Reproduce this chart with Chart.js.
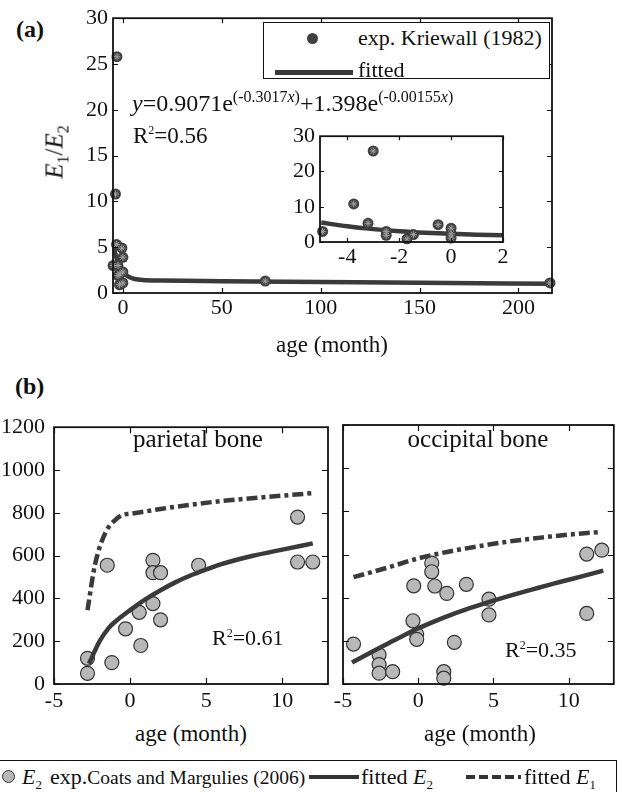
<!DOCTYPE html>
<html>
<head>
<meta charset="utf-8">
<title>E1/E2 ratio and skull bone modulus vs age</title>
<script src="https://cdn.jsdelivr.net/npm/chart.js@4.4.1/dist/chart.umd.min.js"></script>
<style>
  body { margin: 0; background: #fff; }
  #fig { position: relative; width: 622px; height: 792px; overflow: hidden;
         font-family: 'Liberation Serif', 'Times New Roman', serif; color: #111; }
  canvas { position: absolute; }
  .t { position: absolute; white-space: nowrap; line-height: 1; }
  .mid { transform: translateY(-50%); }
  .ctr { transform: translate(-50%, -50%); }
  sub, sup { line-height: 0; }
  .box { position: absolute; border: 1.6px solid #111; background: #fff; box-sizing: border-box; }
</style>
</head>
<body>
<div id="fig">
  <canvas id="chartA" width="530" height="335" style="left:50px;top:0"></canvas>
  <canvas id="chartInset" width="250" height="160" style="left:270px;top:118px"></canvas>
  <canvas id="chartPar" width="340" height="310" style="left:0;top:405px"></canvas>
  <canvas id="chartOcc" width="295" height="310" style="left:327px;top:405px"></canvas>

  <!-- panel (a) texts -->
  <div class="t mid" style="left:16px;top:29px;font-size:24px;font-weight:bold">(a)</div>
  <div class="t" style="left:54px;top:152px;font-size:25px;transform:translate(-50%,-50%) rotate(-90deg)"><i>E</i><sub style="font-size:16px">1</sub>/<i>E</i><sub style="font-size:16px">2</sub></div>
  <div class="t mid" style="left:132px;top:103px;font-size:24px"><i>y</i>=0.9071e<sup style="font-size:16px">(-0.3017<i>x</i>)</sup>+1.398e<sup style="font-size:16px">(-0.00155<i>x</i>)</sup></div>
  <div class="t mid" style="left:133px;top:135px;font-size:23px">R<sup style="font-size:12px">2</sup>=0.56</div>
  <div class="box" style="left:263px;top:22px;width:287px;height:57px"></div>
  <div class="t" style="left:307px;top:33px;width:11px;height:11px;border-radius:50%;background:#404040"></div>
  <div class="t" style="left:275px;top:70px;width:78px;height:5px;background:#3a3a3a"></div>
  <div class="t mid" style="left:358px;top:38px;font-size:22px">exp. Kriewall (1982)</div>
  <div class="t mid" style="left:358px;top:70px;font-size:22px">fitted</div>
  <div class="t ctr" style="left:332px;top:344px;font-size:23px">age (month)</div>

  <!-- panel (b) texts -->
  <div class="t mid" style="left:15px;top:386px;font-size:24px;font-weight:bold">(b)</div>
  <div class="t ctr" style="left:198px;top:438px;font-size:25px">parietal bone</div>
  <div class="t ctr" style="left:478px;top:438px;font-size:25px">occipital bone</div>
  <div class="t mid" style="left:212px;top:638px;font-size:22px">R<sup style="font-size:12px">2</sup>=0.61</div>
  <div class="t mid" style="left:505px;top:650px;font-size:22px">R<sup style="font-size:12px">2</sup>=0.35</div>
  <div class="t ctr" style="left:191px;top:733px;font-size:23px">age (month)</div>
  <div class="t ctr" style="left:480px;top:733px;font-size:23px">age (month)</div>

  <!-- bottom legend -->
  <div class="box" style="left:-2px;top:760px;width:619px;height:40px"></div>
  <div class="t" style="left:2px;top:770px;width:13px;height:13px;border-radius:50%;background:#b8b8b8;border:1.2px solid #333;box-sizing:border-box"></div>
  <div class="t mid" style="left:22px;top:777px;font-size:22px"><i>E</i><sub style="font-size:13px">2</sub></div>
  <div class="t mid" style="left:50px;top:777px;font-size:22px">exp.<span style="font-size:19.5px">Coats and Margulies (2006)</span></div>
  <div class="t" style="left:309px;top:775px;width:50px;height:4px;background:#333"></div>
  <div class="t mid" style="left:361px;top:777px;font-size:22px">fitted <i>E</i><sub style="font-size:13px">2</sub></div>
  <div class="t" style="left:466px;top:775px;width:55px;height:4px;background:repeating-linear-gradient(90deg,#333 0 9px,transparent 9px 13px)"></div>
  <div class="t mid" style="left:524px;top:777px;font-size:22px">fitted <i>E</i><sub style="font-size:13px">1</sub></div>
</div>

<script>
/* ---- Data ---- */

// (a) Kriewall (1982): E1/E2 ratio vs age (month)
const kriAge   = [-4.95, -3.75, -3.0, -3.2, -2.5, -2.5, -1.7, -1.45, -0.5, 0, 0, 0, 72, 216];
const kriRatio = [3.0, 10.8, 25.8, 5.3, 3.0, 1.9, 0.9, 2.1, 4.9, 3.9, 2.3, 1.1, 1.3, 1.1];
// fitted curve, sampled
const fitAge   = [-5, -4, -3, -2, -1, 0, 1, 2, 4, 6, 10, 20, 50, 100, 150, 217];
const fitRatio = [5.51, 4.44, 3.65, 3.06, 2.63, 2.31, 2.07, 1.89, 1.66, 1.53, 1.42, 1.36, 1.29, 1.20, 1.11, 1.00];

// (b) parietal bone, Coats and Margulies (2006)
const parAge = [-2.8, -2.8, -1.2, -1.5, -0.3, 0.6, 0.7, 1.5, 1.5, 2.0, 1.5, 2.0, 4.5, 11, 11, 12];
const parE2  = [120, 50, 100, 555, 258, 335, 180, 578, 520, 520, 376, 300, 555, 780, 570, 570];
const parFitE2Age = [-2.7, -2, -1.4, -1, 0, 1, 2, 3, 4, 5, 6, 8, 10, 12];
const parFitE2    = [95, 200, 262, 290, 345, 395, 438, 476, 508, 535, 560, 598, 628, 657];
const parFitE1Age = [-2.8, -2.3, -1.6, -1, -0.5, 0, 2, 4, 6, 8, 10, 12];
const parFitE1    = [345, 560, 710, 765, 790, 795, 818, 838, 855, 868, 880, 892];

// (b) occipital bone
const occAge = [-4.3, -2.6, -2.6, -2.6, -1.7, -0.3, -0.35, -0.1, -0.1, 0.9, 0.9, 1.1, 1.9, 1.7, 1.7, 2.4, 3.2, 4.7, 4.7, 11.2, 11.2, 12.2];
const occE2  = [185, 135, 90, 50, 57, 455, 293, 230, 207, 560, 520, 454, 420, 57, 27, 193, 462, 393, 320, 327, 602, 620];
const occFitE2Age = [-4.4, -3, -2, -1, 0, 1, 2, 3, 4, 5, 6, 7, 8, 9, 10, 11, 12.3];
const occFitE2    = [100, 152, 188, 224, 258, 288, 316, 341, 364, 386, 407, 427, 446, 465, 483, 501, 525];
const occFitE1Age = [-4.3, -2, 0, 2, 4, 6, 8, 10, 12.2];
const occFitE1    = [495, 540, 582, 613, 638, 660, 677, 692, 705];

// tick labels
const xTicksA = [0, 50, 100, 150, 200];
const yTicksA = [0, 5, 10, 15, 20, 25, 30];
const xTicksInset = [-4, -2, 0, 2];
const yTicksInset = [0, 10, 20, 30];
const xTicksB = [-5, 0, 5, 10];
const yTicksB = [0, 200, 400, 600, 800, 1000, 1200];

/* ---- Helpers ---- */
const SERIF = "'Liberation Serif', 'Times New Roman', serif";
const DARK = '#3a3a3a';
const pts = (xs, ys) => xs.map((x, i) => ({ x: x, y: ys[i] }));

// MATLAB-like box with inward ticks on all four sides
const boxTicks = {
    id: 'boxTicks',
    afterDatasetsDraw(chart, args, opts) {
        const { ctx, chartArea: a, scales: { x, y } } = chart;
        const len = opts.len || 5;
        ctx.save();
        ctx.strokeStyle = '#111';
        ctx.lineWidth = 1.2;
        ctx.beginPath();
        x.ticks.forEach(t => {
            const px = Math.round(x.getPixelForValue(t.value)) + 0.5;
            ctx.moveTo(px, a.bottom); ctx.lineTo(px, a.bottom - len);
            ctx.moveTo(px, a.top); ctx.lineTo(px, a.top + len);
        });
        y.ticks.forEach(t => {
            const py = Math.round(y.getPixelForValue(t.value)) + 0.5;
            ctx.moveTo(a.left, py); ctx.lineTo(a.left + len, py);
            ctx.moveTo(a.right, py); ctx.lineTo(a.right - len, py);
        });
        ctx.stroke();
        ctx.lineWidth = 1.8;
        ctx.strokeRect(a.left, a.top, a.right - a.left, a.bottom - a.top);
        ctx.restore();
    }
};

function makeChart(id, datasets, g) {
    return new Chart(document.getElementById(id), {
        type: 'scatter',
        data: { datasets: datasets },
        plugins: [boxTicks],
        options: {
            responsive: false,
            animation: false,
            events: [],
            layout: { padding: { top: g.padTop, right: g.padRight, left: 0, bottom: 0 } },
            plugins: {
                legend: { display: false },
                tooltip: { enabled: false },
                boxTicks: { len: g.tickLen }
            },
            scales: {
                x: {
                    type: 'linear', min: g.xMin, max: g.xMax,
                    grid: { display: false, drawTicks: false }, border: { display: false },
                    ticks: { font: { family: SERIF, size: 22 }, color: '#111', padding: g.xPad, maxRotation: 0,
                             callback: v => String(v) },
                    afterBuildTicks: s => { s.ticks = g.xTicks.map(v => ({ value: v })); },
                    afterFit: s => { s.height = g.xh; }
                },
                y: {
                    type: 'linear', min: g.yMin, max: g.yMax,
                    grid: { display: false, drawTicks: false }, border: { display: false },
                    ticks: { display: g.yLabels, font: { family: SERIF, size: 22 }, color: '#111', padding: g.yPad,
                             callback: v => String(v) },
                    afterBuildTicks: s => { s.ticks = g.yTicks.map(v => ({ value: v })); },
                    afterFit: s => { s.width = g.yw; }
                }
            }
        }
    });
}

function kriStars(xs, ys) {
    return { data: pts(xs, ys), pointStyle: 'star', pointRadius: 3.5, borderColor: '#a0a0a0',
             borderWidth: 1, backgroundColor: 'rgba(0,0,0,0)', clip: false };
}
function kriDots(xs, ys) {
    return { data: pts(xs, ys), pointRadius: 5.5, backgroundColor: '#404040',
             borderColor: '#404040', borderWidth: 0, clip: false };
}
function fitLine(xs, ys, dash) {
    return { data: pts(xs, ys), showLine: true, pointRadius: 0, borderColor: DARK,
             borderWidth: 4.5, borderDash: dash || [], cubicInterpolationMode: 'monotone', fill: false };
}
function boneDots(xs, ys) {
    return { data: pts(xs, ys), pointRadius: 7, backgroundColor: '#b8b8b8',
             borderColor: '#333', borderWidth: 1.2, clip: false };
}

/* ---- Charts ---- */
function drawAll() {
    Chart.defaults.font.family = SERIF;

    // (a) main
    makeChart('chartA', [
        kriStars(kriAge, kriRatio),
        kriDots(kriAge, kriRatio),
        fitLine(fitAge, fitRatio)
    ], { xMin: -5, xMax: 217, yMin: 0, yMax: 30, xTicks: xTicksA, yTicks: yTicksA,
         yw: 63, xh: 42, padTop: 17, padRight: 28, xPad: 2, yPad: 5, tickLen: 5, yLabels: true });

    // (a) inset, early ages only
    const nIn = 12;
    makeChart('chartInset', [
        kriStars(kriAge.slice(0, nIn), kriRatio.slice(0, nIn)),
        kriDots(kriAge.slice(0, nIn), kriRatio.slice(0, nIn)),
        fitLine(fitAge, fitRatio)
    ], { xMin: -5.05, xMax: 2, yMin: 0, yMax: 30, xTicks: xTicksInset, yTicks: yTicksInset,
         yw: 50, xh: 36, padTop: 17, padRight: 17, xPad: 2, yPad: 5, tickLen: 4, yLabels: true });

    // (b) parietal bone
    makeChart('chartPar', [
        fitLine(parFitE2Age, parFitE2),
        fitLine(parFitE1Age, parFitE1, [11, 4, 4, 4]),
        boneDots(parAge, parE2)
    ], { xMin: -5, xMax: 13, yMin: 0, yMax: 1200, xTicks: xTicksB, yTicks: yTicksB,
         yw: 54, xh: 31, padTop: 20, padRight: 12, xPad: 4, yPad: 9, tickLen: 6, yLabels: true });

    // (b) occipital bone
    makeChart('chartOcc', [
        fitLine(occFitE2Age, occFitE2),
        fitLine(occFitE1Age, occFitE1, [11, 4, 4, 4]),
        boneDots(occAge, occE2)
    ], { xMin: -5, xMax: 13, yMin: 0, yMax: 1200, xTicks: xTicksB, yTicks: yTicksB,
         yw: 16, xh: 31, padTop: 20, padRight: 6, xPad: 4, yPad: 9, tickLen: 6, yLabels: false });
}

// make sure the serif face is ready before the canvases use it
document.fonts.load("22px 'Liberation Serif'").then(drawAll, drawAll);
</script>
</body>
</html>
